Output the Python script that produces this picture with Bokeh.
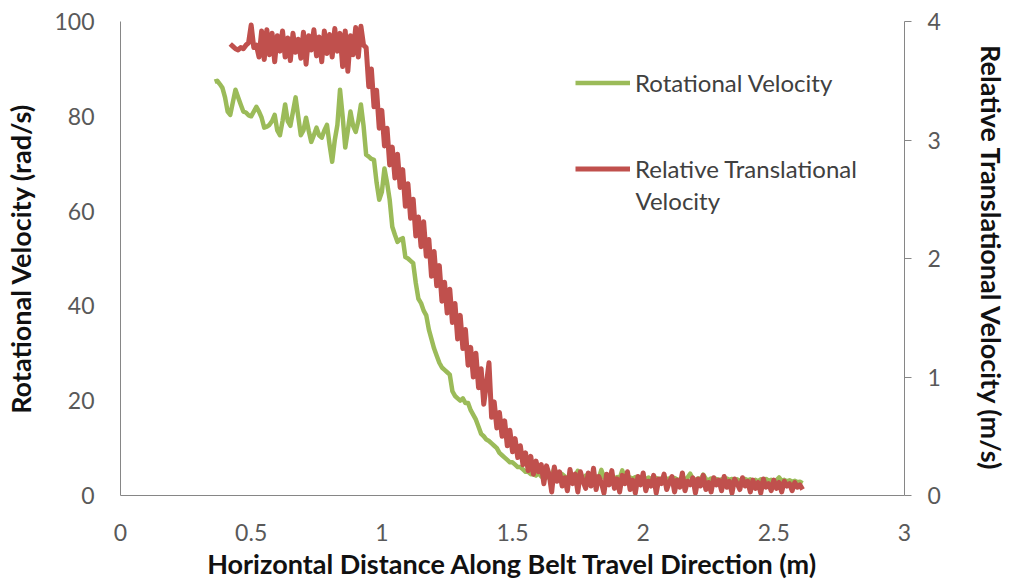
import numpy as np
from bokeh.plotting import figure
from bokeh.models import (Range1d, LinearAxis, SingleIntervalTicker, FixedTicker,
                          NumeralTickFormatter, Legend, LegendItem, Label)
from bokeh.embed import file_html
from bokeh.resources import INLINE

# ---------------- data ----------------
x_step = 0.01
rot_x_start = 0.36      # first x of the Rotational Velocity series (m)
trans_x_start = 0.42    # first x of the Relative Translational Velocity series (m)

# Rotational Velocity (rad/s), left axis
rot_vel = [
    87.3, 87.5, 86.8, 86.0,
    84.0, 81.0, 80.3, 83.0, 85.6, 84.0, 82.5, 81.0, 80.8, 80.2,
    80.0, 81.0, 82.0, 81.0, 79.7, 77.6, 77.8, 78.2, 79.0, 80.3,
    77.0, 76.0, 79.0, 82.5, 79.0, 78.0, 81.0, 84.0, 80.0, 76.0,
    77.0, 79.7, 77.0, 74.6, 76.0, 77.6, 76.0, 75.5, 77.0, 78.2,
    74.0, 70.4, 75.0, 78.2, 85.6, 80.0, 73.4, 77.0, 81.0, 78.0,
    76.7, 79.0, 82.5, 78.0, 71.9, 71.5, 71.0, 70.8, 66.0, 62.4,
    64.0, 69.0, 66.0, 62.4, 56.7, 55.0, 53.5, 54.0, 54.3, 50.3,
    50.0, 49.5, 49.0, 44.8, 41.5, 40.6, 39.0, 38.0, 35.0, 33.0,
    31.0, 29.5, 28.0, 27.0, 26.5, 26.0, 25.5, 22.0, 21.0, 20.5,
    20.0, 20.5, 19.5, 19.5, 18.0, 17.0, 16.0, 14.5, 13.0, 12.5,
    11.8, 11.5, 11.0, 10.5, 10.0, 9.0, 8.5, 8.0, 7.5, 7.0,
    7.0, 6.5, 6.0, 6.0, 5.5, 5.0, 5.0, 4.5,
    4.5, 4.2,
    4.8, 4.0, 4.4, 3.8, 4.6, 4.1, 5.8, 4.3, 3.9, 4.5,
    4.0, 3.7, 4.3, 3.6, 4.1, 5.2, 3.8, 3.5, 4.2, 3.7,
    3.9, 3.5, 4.0, 3.6, 5.4, 3.8, 3.4, 4.1, 3.7, 3.5,
    3.9, 3.6, 5.3, 3.7, 3.4, 3.8, 3.5, 3.9, 3.6, 3.3,
    3.7, 3.4, 3.8, 3.5, 3.3, 3.7, 3.4, 3.6, 3.3, 3.5,
    3.6, 3.3, 3.7, 3.4, 3.2, 3.6, 3.4, 3.8, 4.6, 3.5,
    3.3, 3.6, 3.4, 4.4, 3.5, 3.2, 3.6, 3.3, 3.5, 3.2,
    3.4, 3.1, 3.6, 3.3, 3.5, 3.2, 3.4, 3.1, 3.3, 3.5,
    3.2, 3.4, 3.1, 3.3, 3.0, 3.4, 3.2, 3.5, 3.1, 3.3,
    3.0, 3.2, 3.8, 3.1, 3.3, 3.0, 3.2, 2.9, 3.1, 2.8,
    2.9, 2.6,
]

# Relative Translational Velocity (m/s), right axis
trans_vel = [
    3.81, 3.79, 3.77, 3.76, 3.78, 3.77, 3.80, 3.82,
    3.97, 3.78, 3.80, 3.70, 3.92, 3.68, 3.93, 3.72, 3.90, 3.66,
    3.88, 3.75, 3.92, 3.70, 3.86, 3.67, 3.90, 3.74, 3.85, 3.69,
    3.91, 3.64, 3.88, 3.76, 3.93, 3.71, 3.87, 3.66, 3.92, 3.73,
    3.89, 3.70, 3.94, 3.75, 3.90, 3.62, 3.92, 3.58, 3.88, 3.72,
    3.95, 3.70, 3.96, 3.80, 3.78, 3.45, 3.60, 3.28, 3.42, 3.10,
    3.25, 2.95, 3.10, 2.79, 2.94, 2.68, 2.88, 2.60, 2.75, 2.44,
    2.63, 2.34, 2.50, 2.19, 2.35, 2.10, 2.31, 2.02, 2.16, 1.85,
    2.06, 1.77, 1.94, 1.64, 1.80, 1.54, 1.74, 1.46, 1.62, 1.32,
    1.52, 1.24, 1.40, 1.10, 1.25, 1.00, 1.20, 0.91, 1.07, 0.77,
    0.94, 1.12, 0.66, 0.79, 0.57, 0.70, 0.50, 0.63, 0.42, 0.55,
    0.37, 0.48, 0.32, 0.42, 0.26, 0.36, 0.21, 0.33, 0.18, 0.29,
    0.20, 0.26, 0.10, 0.25, 0.18, 0.03, 0.24, 0.12, 0.20, 0.08,
    0.15, 0.04, 0.22, 0.10, 0.18, 0.03, 0.20, 0.12, 0.06, 0.19,
    0.08, 0.23, 0.05, 0.16, 0.11, 0.02, 0.18, 0.09, 0.21, 0.06,
    0.14, 0.03, 0.17, 0.10, 0.20, 0.05, 0.13, 0.02, 0.16, 0.09,
    0.19, 0.04, 0.12, 0.08, 0.17, 0.02, 0.14, 0.10, 0.18, 0.05,
    0.11, 0.16, 0.03, 0.13, 0.07, 0.19, 0.04, 0.12, 0.09, 0.15,
    0.02, 0.14, 0.08, 0.17, 0.05, 0.11, 0.03, 0.15, 0.09, 0.13,
    0.04, 0.16, 0.07, 0.12, 0.02, 0.14, 0.10, 0.05, 0.15, 0.08,
    0.12, 0.03, 0.13, 0.06, 0.11, 0.02, 0.14, 0.07, 0.10, 0.04,
    0.13, 0.06, 0.11, 0.03, 0.12, 0.08, 0.10, 0.04, 0.11, 0.07,
    0.09, 0.05,
]

x_ticks = [0, 0.5, 1, 1.5, 2, 2.5, 3]
legend_labels = ["Rotational Velocity", "Relative Translational", "Velocity"]
x_title = "Horizontal Distance Along Belt Travel Direction (m)"
y_title = "Rotational Velocity (rad/s)"
y2_title = "Relative Translational Velocity (m/s)"

x_rot = np.round(rot_x_start + x_step * np.arange(len(rot_vel)), 3)
x_trans = np.round(trans_x_start + x_step * np.arange(len(trans_vel)), 3)

# ---------------- figure ----------------
FONT = "Lato"
TICK_COLOR = "#595959"
AXIS_COLOR = "#868686"
LEG_COLOR = "#404040"

p = figure(width=1011, height=585, output_backend="svg", toolbar_location=None,
           x_range=Range1d(0, 3), y_range=Range1d(0, 100),
           min_border_left=120, min_border_right=107, min_border_top=21,
           min_border_bottom=90, background_fill_color="white",
           border_fill_color="white")
p.extra_y_ranges = {"trans": Range1d(0, 4)}
p.grid.visible = False
p.outline_line_color = None

r_rot = p.line(x_rot, rot_vel, line_color="#9BBB59", line_width=4.5,
               line_join="round")
r_trans = p.line(x_trans, trans_vel, y_range_name="trans",
                 line_color="#C0504D", line_width=5, line_join="round")

def style_axis(ax):
    ax.axis_line_color = AXIS_COLOR
    ax.major_tick_line_color = AXIS_COLOR
    ax.minor_tick_line_color = None
    ax.major_tick_in = 0
    ax.major_label_text_font = FONT
    ax.major_label_text_font_size = "23px"
    ax.major_label_text_color = TICK_COLOR
    ax.axis_label_text_font = FONT
    ax.axis_label_text_font_style = "bold"
    ax.axis_label_text_font_size = "27px"
    ax.axis_label_text_color = "#111111"

xa = p.xaxis[0]
style_axis(xa)
xa.ticker = FixedTicker(ticks=x_ticks)
xa.formatter = NumeralTickFormatter(format="0.[0]")
xa.major_tick_out = 0
xa.major_label_standoff = 28
xa.axis_label = x_title
xa.axis_label_standoff = 3

ya = p.yaxis[0]
style_axis(ya)
ya.ticker = SingleIntervalTicker(interval=20)
ya.major_tick_out = 0
ya.major_label_standoff = 22
ya.axis_label = y_title
ya.axis_label_standoff = 14

y2 = LinearAxis(y_range_name="trans", axis_label=y2_title)
style_axis(y2)
y2.ticker = SingleIntervalTicker(interval=1)
y2.major_tick_out = 7
y2.major_label_standoff = 16
y2.axis_label_standoff = 31
p.add_layout(y2, "right")

legend = Legend(items=[LegendItem(label=legend_labels[0], renderers=[r_rot]),
                       LegendItem(label=legend_labels[1], renderers=[r_trans])],
                location=(455, 312), orientation="vertical",
                glyph_width=55, glyph_height=29, label_standoff=5,
                spacing=57, padding=0, margin=0,
                border_line_color=None, background_fill_alpha=0,
                label_text_font=FONT, label_text_font_size="24px",
                label_text_color=LEG_COLOR, label_height=29)
p.add_layout(legend)

p.add_layout(Label(x=515, y=295, x_units="screen", y_units="screen",
                   text=legend_labels[2], text_font=FONT,
                   text_font_size="24px", text_color=LEG_COLOR,
                   text_baseline="middle", text_align="left"))

open("out.html", "w").write(file_html(p, INLINE))
